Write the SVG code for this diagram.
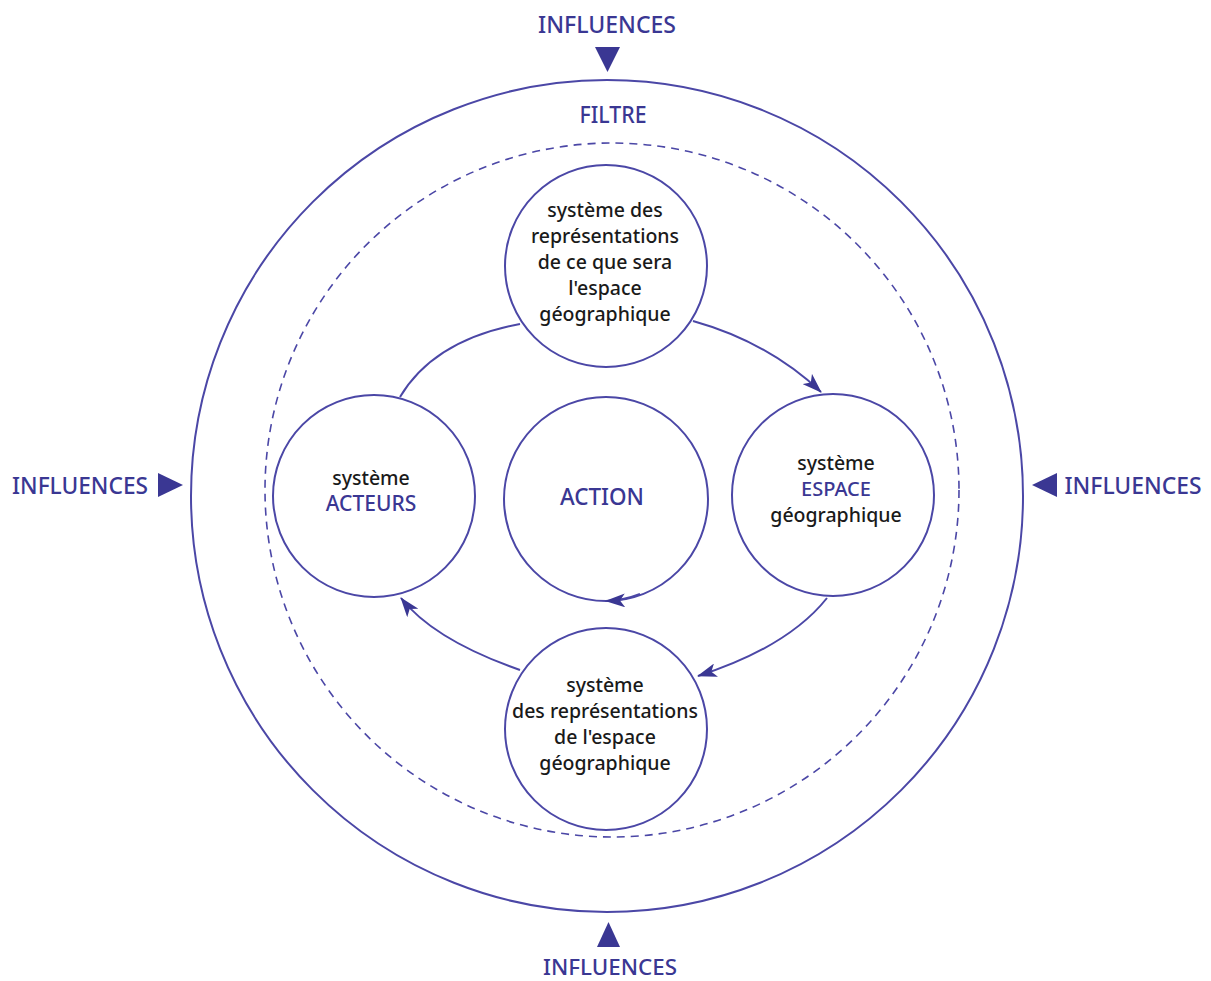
<svg xmlns="http://www.w3.org/2000/svg" width="1211" height="981" viewBox="0 0 1211 981">
<style>
.ring{fill:none;stroke:#4b47a6;stroke-width:2}
.dash{fill:none;stroke:#4b47a6;stroke-width:1.6;stroke-dasharray:8 6}
.node{fill:#fff;stroke:#4b47a6;stroke-width:2}
.conn{fill:none;stroke:#4b47a6;stroke-width:2}
.tri{fill:#3a3793}
.blue{font-family:"Noto Sans","Liberation Sans",sans-serif;fill:#3a3793;font-weight:500;text-anchor:middle}
.blk{font-family:"Noto Sans","Liberation Sans",sans-serif;fill:#1a1a1a;font-size:19.5px;font-weight:500;text-anchor:middle}
</style>
<defs>
<marker id="arr" markerUnits="userSpaceOnUse" viewBox="0 0 20 14" markerWidth="20" markerHeight="14" refX="19" refY="7" orient="auto">
<path d="M0,0 L20,7 L0,14 L5,7 Z" fill="#3a3793"/>
</marker>
</defs>
<rect width="1211" height="981" fill="#fff"/>
<g id="outer">
<circle class="ring" cx="607" cy="496" r="416"/>
<circle class="dash" cx="612" cy="490" r="347"/>
</g>
<g id="influences">
<text class="blue" x="607" y="33" font-size="24" textLength="138" lengthAdjust="spacingAndGlyphs">INFLUENCES</text>
<polygon class="tri" points="595,47 620,47 607.5,72"/>
<text class="blue" x="610" y="975" font-size="22" textLength="134" lengthAdjust="spacingAndGlyphs">INFLUENCES</text>
<polygon class="tri" points="597,947 620,947 608.5,922"/>
<text class="blue" x="80" y="494" font-size="24" textLength="136" lengthAdjust="spacingAndGlyphs">INFLUENCES</text>
<polygon class="tri" points="158,473 158,497 183,485"/>
<text class="blue" x="1133" y="494" font-size="24" textLength="137" lengthAdjust="spacingAndGlyphs">INFLUENCES</text>
<polygon class="tri" points="1057,473 1057,497 1032,485"/>
<text class="blue" x="613" y="123" font-size="23" textLength="67" lengthAdjust="spacingAndGlyphs">FILTRE</text>
</g>
<g id="connectors">
<path class="conn" d="M400,397 Q434,340 520,324"/>
<path class="conn" d="M693,321 Q768,342 821,392" marker-end="url(#arr)"/>
<path class="conn" d="M827,598 Q788,647 698,676" marker-end="url(#arr)"/>
<path class="conn" d="M520,670 Q434,640 401,598" marker-end="url(#arr)"/>
</g>
<g id="node-top">
<circle class="node" cx="606" cy="266" r="101"/>
<text class="blk" x="605" y="217">système des</text>
<text class="blk" x="605" y="243">représentations</text>
<text class="blk" x="605" y="269">de ce que sera</text>
<text class="blk" x="605" y="295">l'espace</text>
<text class="blk" x="605" y="321">géographique</text>
</g>
<g id="node-acteurs">
<circle class="node" cx="374" cy="496" r="101"/>
<text class="blk" x="371" y="485">système</text>
<text class="blue" x="371" y="511" font-size="21">ACTEURS</text>
</g>
<g id="node-action">
<circle class="node" cx="606" cy="499" r="102"/>
<path class="conn" d="M640,594 A102,102 0 0 1 606,601" marker-end="url(#arr)"/>
<text class="blue" x="602" y="505" font-size="24" textLength="84" lengthAdjust="spacingAndGlyphs">ACTION</text>
</g>
<g id="node-espace">
<circle class="node" cx="833" cy="495" r="101"/>
<text class="blk" x="836" y="470">système</text>
<text class="blue" x="836" y="496" font-size="20">ESPACE</text>
<text class="blk" x="836" y="522">géographique</text>
</g>
<g id="node-bottom">
<circle class="node" cx="606" cy="729" r="101"/>
<text class="blk" x="605" y="692">système</text>
<text class="blk" x="605" y="718">des représentations</text>
<text class="blk" x="605" y="744">de l'espace</text>
<text class="blk" x="605" y="770">géographique</text>
</g>
</svg>
